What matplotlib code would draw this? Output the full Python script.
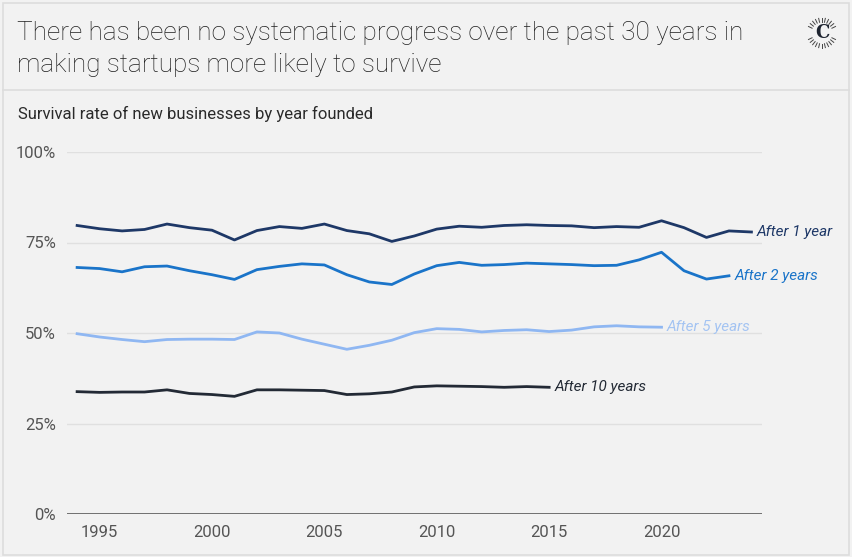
import numpy as np
import matplotlib
matplotlib.use("Agg")
import matplotlib.pyplot as plt
from matplotlib.lines import Line2D
from matplotlib.patches import Rectangle

plt.rcParams["font.family"] = ["Roboto", "DejaVu Sans"]

years_1y = list(range(1994, 2025))
after_1y = [79.7, 78.8, 78.2, 78.6, 80.1, 79.1, 78.4, 75.7, 78.3, 79.4, 78.9, 80.1,
            78.3, 77.4, 75.3, 76.8, 78.7, 79.5, 79.2, 79.7, 79.9, 79.7, 79.6, 79.1,
            79.4, 79.2, 81.0, 79.1, 76.4, 78.2, 77.9]

years_2y = list(range(1994, 2024))
after_2y = [68.1, 67.8, 66.9, 68.3, 68.5, 67.2, 66.1, 64.8, 67.5, 68.4, 69.1, 68.8,
            66.1, 64.1, 63.4, 66.3, 68.6, 69.5, 68.7, 68.9, 69.3, 69.1, 68.9, 68.6,
            68.7, 70.2, 72.3, 67.2, 64.9, 65.8]

years_5y = list(range(1994, 2021))
after_5y = [49.8, 48.9, 48.2, 47.6, 48.2, 48.3, 48.3, 48.2, 50.3, 50.0, 48.3, 46.9,
            45.5, 46.6, 48.0, 50.1, 51.2, 51.0, 50.3, 50.7, 50.9, 50.4, 50.8, 51.7,
            52.0, 51.7, 51.6]

years_10y = list(range(1994, 2016))
after_10y = [33.8, 33.6, 33.7, 33.7, 34.3, 33.3, 33.0, 32.5, 34.3, 34.3, 34.2, 34.1,
             33.0, 33.2, 33.7, 35.1, 35.4, 35.3, 35.2, 35.0, 35.2, 35.0]

series = [
    (years_1y, after_1y, "After 1 year", "#1e3867", "#1e3867"),
    (years_2y, after_2y, "After 2 years", "#1a74c9", "#1a74c9"),
    (years_5y, after_5y, "After 5 years", "#8fb7f2", "#a4c4f2"),
    (years_10y, after_10y, "After 10 years", "#232a35", "#232a35"),
]

x_ticks = [1995, 2000, 2005, 2010, 2015, 2020]
y_ticks = [0, 25, 50, 75, 100]
y_tick_labels = ["0%", "25%", "50%", "75%", "100%"]

bg = "#f2f2f2"
fig = plt.figure(figsize=(8.52, 5.57), dpi=100, facecolor=bg)
W, H = 852, 557

# frame and separator
fig.add_artist(Rectangle((3 / W, 2 / H), 846 / W, 1 - 5 / H, transform=fig.transFigure,
                         fill=False, edgecolor="#dddddd", lw=1.2))
fig.add_artist(Line2D([3 / W, 849 / W], [1 - 90 / H, 1 - 90 / H], transform=fig.transFigure,
                      color="#dddddd", lw=1.2))

fig.text(17 / W, 1 - 21 / H,
         "There has been no systematic progress over the past 30 years in\n"
         "making startups more likely to survive",
         ha="left", va="top", fontsize=18.8, fontweight="light", color="#1f1f1f",
         linespacing=1.4)
fig.text(18 / W, 1 - 114 / H, "Survival rate of new businesses by year founded",
         ha="left", va="center", fontsize=12, color="#2a2a2a")

# logo
cx, cy, r0, r1 = 822, 33, 11, 15
fig.text(cx / W, 1 - cy / H, "C", ha="center", va="center", fontsize=13,
         family="DejaVu Serif", color="#1e2430", fontweight="bold")
for ang in np.linspace(0, 2 * np.pi, 28, endpoint=False):
    if abs(np.cos(ang)) > 0.93:
        continue
    x0, y0 = cx + r0 * np.cos(ang), cy + r0 * np.sin(ang)
    x1, y1 = cx + r1 * np.cos(ang), cy + r1 * np.sin(ang)
    fig.add_artist(Line2D([x0 / W, x1 / W], [1 - y0 / H, 1 - y1 / H],
                          transform=fig.transFigure, color="#444444", lw=0.7))

ax = fig.add_axes([67 / W, 1 - 514 / H, (762 - 67) / W, (514 - 152) / H])
ax.set_facecolor(bg)
ax.set_xlim(1993.55, 2024.47)
ax.set_ylim(0, 100)

for y in y_ticks[1:]:
    ax.axhline(y, color="#e0e0e0", lw=1, zorder=1)
ax.axhline(0, color="#5a5a5a", lw=1.2, zorder=2)

for xs, ys, label, color, lcolor in series:
    ax.plot(xs, ys, color=color, lw=2.0, zorder=3, clip_on=False, solid_joinstyle="round")
    ax.annotate(label, (xs[-1], ys[-1]), xytext=(4, 0), textcoords="offset points",
                ha="left", va="center", fontsize=11, style="italic", color=lcolor,
                annotation_clip=False)

for s in ax.spines.values():
    s.set_visible(False)
ax.set_xticks(x_ticks)
ax.set_xticklabels([str(x) for x in x_ticks])
ax.set_yticks(y_ticks)
ax.set_yticklabels(y_tick_labels)
ax.tick_params(axis="both", length=0, labelsize=12, labelcolor="#555555")
ax.tick_params(axis="x", pad=8)
ax.tick_params(axis="y", pad=8)

fig.savefig("out.png", dpi=100, facecolor=bg)
